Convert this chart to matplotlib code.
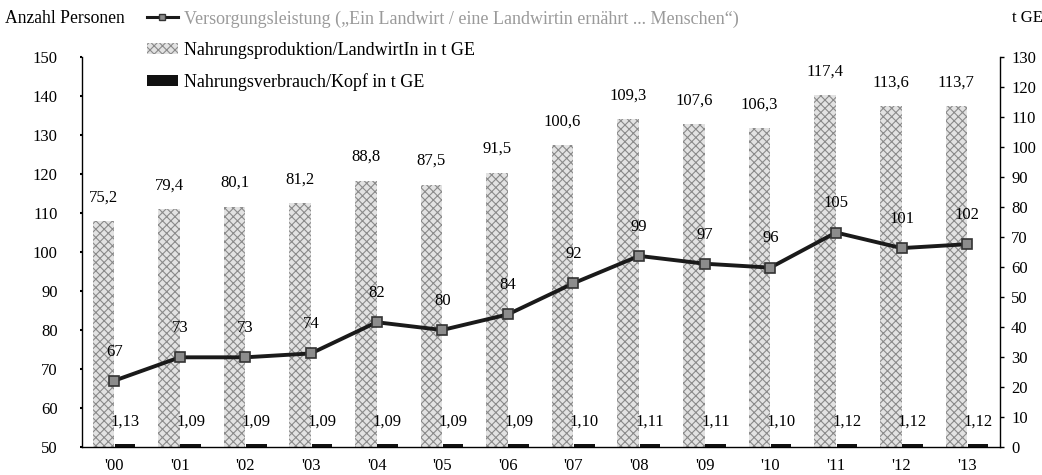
import matplotlib
matplotlib.use("Agg")
import matplotlib.pyplot as plt
from matplotlib.patches import Patch
from matplotlib.lines import Line2D
import numpy as np

years = ["'00", "'01", "'02", "'03", "'04", "'05", "'06", "'07", "'08", "'09", "'10", "'11", "'12", "'13"]
versorgung = [67, 73, 73, 74, 82, 80, 84, 92, 99, 97, 96, 105, 101, 102]
produktion = [75.2, 79.4, 80.1, 81.2, 88.8, 87.5, 91.5, 100.6, 109.3, 107.6, 106.3, 117.4, 113.6, 113.7]
verbrauch = [1.13, 1.09, 1.09, 1.09, 1.09, 1.09, 1.09, 1.10, 1.11, 1.11, 1.10, 1.12, 1.12, 1.12]

plt.rcParams['font.family'] = ['Liberation Serif', 'DejaVu Serif']
plt.rcParams['hatch.linewidth'] = 0.8

def de(v, nd):
    return f"{v:.{nd}f}".replace('.', ',')

fig = plt.figure(figsize=(10.42, 4.75), dpi=100)
ax = fig.add_axes([0.0787, 0.0589, 0.881, 0.8211])
ax2 = ax.twinx()

x = np.arange(len(years))
w = 0.33
bar_face = '#e2e2e2'
bar_hatch = '#8a8a8a'

# bars on the right axis (t GE)
ax2.bar(x - w / 2, produktion, width=w, facecolor=bar_face, edgecolor=bar_hatch,
        hatch='xxxx', linewidth=0, zorder=2)
ax2.bar(x + w / 2, verbrauch, width=w * 0.95, color='#111111', linewidth=0, zorder=2)
for xi, v in zip(x, produktion):
    ax2.annotate(de(v, 1), (xi - w / 2, v), xytext=(0, 17), textcoords='offset points',
                 ha='center', va='center', fontsize=12)
for xi, v in zip(x, verbrauch):
    ax2.text(xi + w / 2, 8.3, de(v, 2), ha='center', va='center', fontsize=12)

# line on the left axis (persons)
ax.set_zorder(ax2.get_zorder() + 1)
ax.patch.set_visible(False)
ax.plot(x, versorgung, color='#1a1a1a', lw=2.8, marker='s', markersize=7,
        markerfacecolor='#8c8c8c', markeredgecolor='#333333', markeredgewidth=1.2, zorder=3)
for xi, v in zip(x, versorgung):
    ax.annotate(str(v), (xi, v), xytext=(0, 21), textcoords='offset points',
                ha='center', va='center', fontsize=12)

ax.set_xlim(-0.49, 13.5)
ax.set_ylim(50, 150)
ax2.set_ylim(0, 130)
ax.set_yticks(range(50, 151, 10))
ax2.set_yticks(range(0, 131, 10))
ax.set_xticks(x)
ax.set_xticklabels(years)

for a in (ax, ax2):
    a.spines['top'].set_visible(False)
    for s in ('left', 'right', 'bottom'):
        a.spines[s].set_linewidth(1.0)
ax.spines['right'].set_visible(False)
ax2.spines['left'].set_visible(False)
ax2.spines['bottom'].set_visible(False)

ax.tick_params(axis='y', direction='out', length=1.5, width=1.5, pad=16, labelsize=12)
ax2.tick_params(axis='y', direction='out', length=3, width=1, pad=5, labelsize=12)
ax.tick_params(axis='x', length=0, pad=8, labelsize=12)

fig.text(0.005, 0.962, "Anzahl Personen", fontsize=12.7, va='center', ha='left')
fig.text(0.971, 0.962, "t GE", fontsize=12, va='center', ha='left')

handles = [
    Line2D([0], [0], color='#1a1a1a', lw=2.2, marker='s', markersize=5,
           markerfacecolor='#8c8c8c', markeredgecolor='#333333'),
    Patch(facecolor=bar_face, edgecolor=bar_hatch, hatch='xxxx', linewidth=0),
    Patch(facecolor='#111111', linewidth=0),
]
labels = [
    "Versorgungsleistung („Ein Landwirt / eine Landwirtin ernährt ... Menschen“)",
    "Nahrungsproduktion/LandwirtIn in t GE",
    "Nahrungsverbrauch/Kopf in t GE",
]
leg = fig.legend(handles, labels, loc='upper left', bbox_to_anchor=(0.129, 1.005),
                 frameon=False, fontsize=13, handlelength=1.7, handleheight=0.6,
                 handletextpad=0.35, labelspacing=0.78, borderaxespad=0.3)
leg.get_texts()[0].set_color('#9a9a9a')

fig.savefig("out.png", dpi=100)
